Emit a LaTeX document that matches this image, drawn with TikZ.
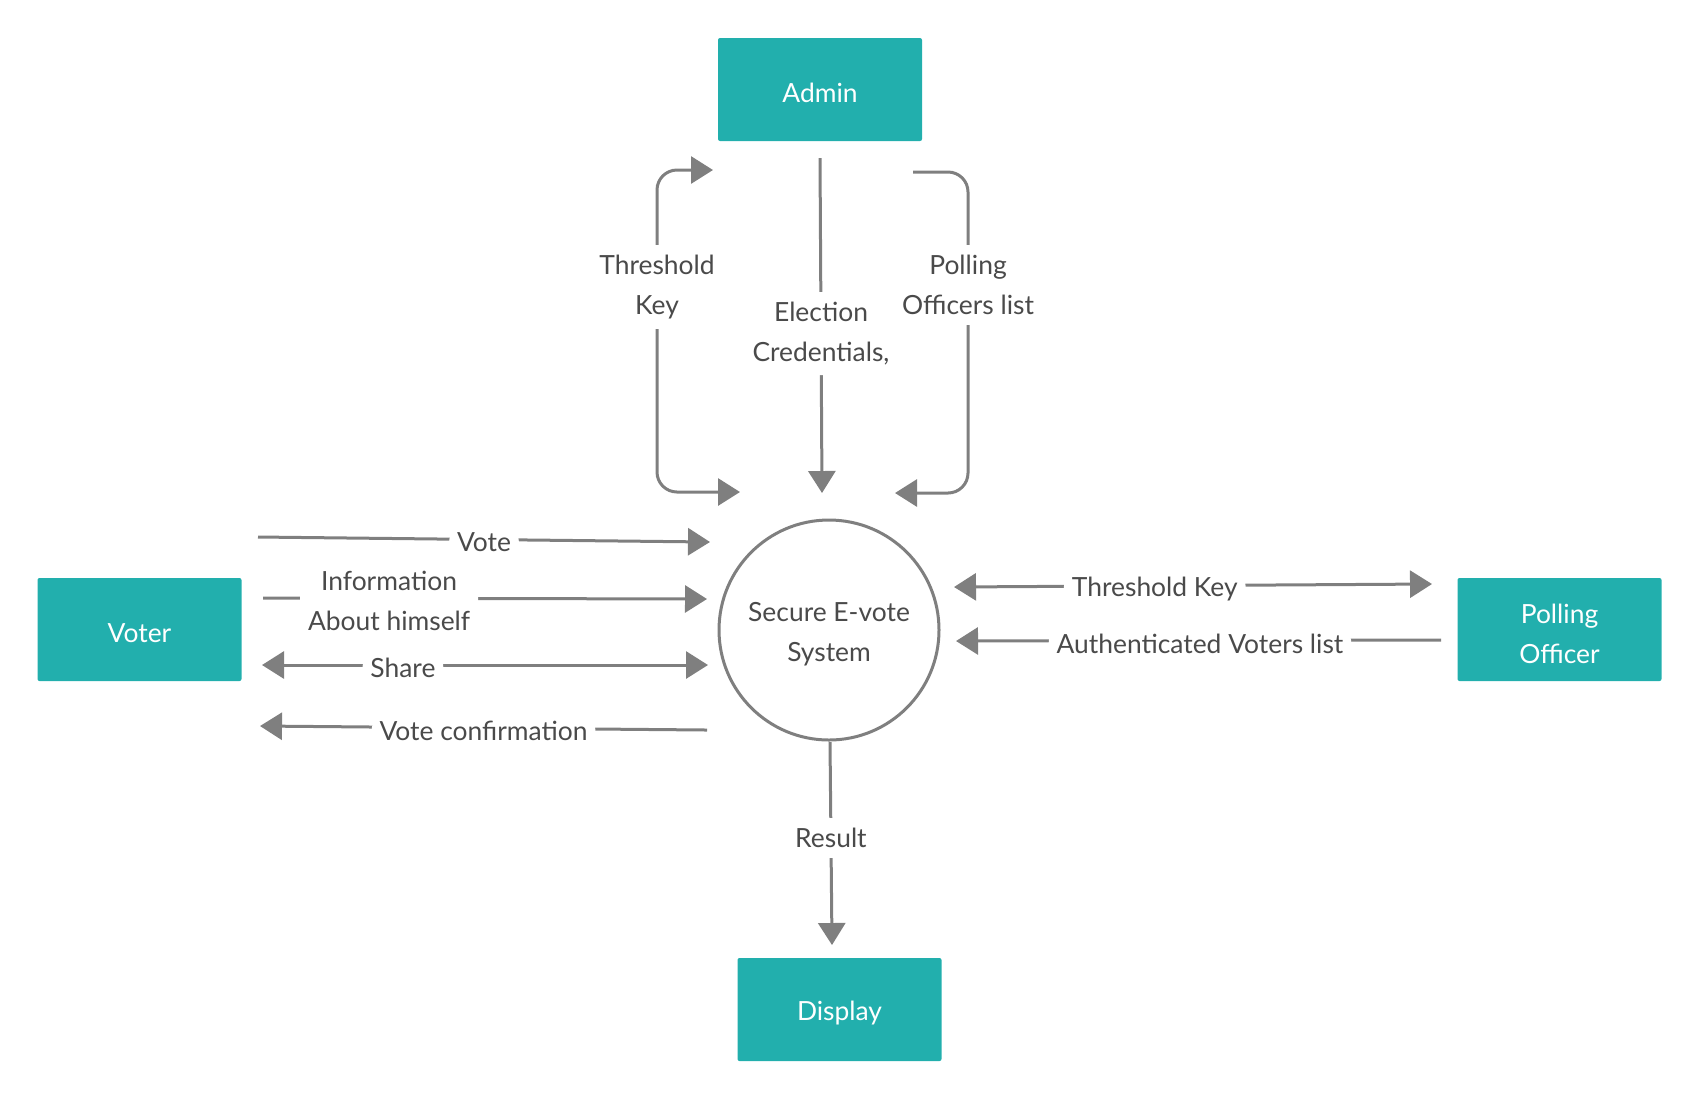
\documentclass[tikz,border=0pt]{standalone}
\usepackage{fontspec}
\setmainfont{Lato}
\usepackage{tikz}
\usetikzlibrary{arrows.meta,positioning}
\definecolor{tealbox}{HTML}{22AFAD}
\definecolor{linegray}{HTML}{7F7F7F}
\definecolor{textgray}{HTML}{4A4A4A}

\begin{document}
\begin{tikzpicture}[
    x=0.5pt,y=-0.5pt,
    entity/.style={fill=tealbox,text=white,align=center,minimum width=102pt,minimum height=51.5pt,rounded corners=1pt,font=\fontsize{13.2}{20}\selectfont,execute at begin node={\rule{0pt}{13pt}}},
    process/.style={circle,draw=linegray,line width=1.5pt,minimum size=110pt,align=center,text=textgray,font=\fontsize{13.2}{20}\selectfont},
    twolines/.style={execute at begin node={\rule{0pt}{34pt}}},
    arrow/.style={-{Triangle[length=11pt,width=13.5pt]},line width=1.5pt,draw=linegray,rounded corners=10pt},
    twoway/.style={arrow,{Triangle[length=11pt,width=13.5pt]}-{Triangle[length=11pt,width=13.5pt]}},
    lbl/.style={fill=white,text=textgray,align=center,inner xsep=4pt,inner ysep=5pt,yshift=-1.5pt,font=\fontsize{13.2}{20}\selectfont}
  ]
    \useasboundingbox (0,0) rectangle (1700,1100);

    % external entities and the process
    \node[entity] (admin) at (820,89.5) {Admin};
    \node[entity] (voter) at (139.5,629.5) {Voter};
    \node[entity,twolines] (officer) at (1559.5,629.5) {Polling\\Officer};
    \node[entity] (display) at (839.5,1009.5) {Display};
    \node[process,twolines] (system) at (829,630) {Secure E-vote\\System};

    % free ends of the flows
    \coordinate (thA) at (713,170);
    \coordinate (thC) at (657,492);
    \coordinate (thB) at (740,492);
    \coordinate (elA) at (820,158);
    \coordinate (elB) at (822,493);
    \coordinate (poA) at (913,172);
    \coordinate (poC) at (968,493);
    \coordinate (poB) at (895,493);
    \coordinate (voteA) at (258,537);
    \coordinate (voteB) at (710,542);
    \coordinate (infoA) at (263,598);
    \coordinate (infoB) at (707,599);
    \coordinate (shA) at (262,665);
    \coordinate (shB) at (708,665);
    \coordinate (vcA) at (707,730);
    \coordinate (vcB) at (260,726);
    \coordinate (tkA) at (954,587);
    \coordinate (tkB) at (1432,584);
    \coordinate (avA) at (1441,640);
    \coordinate (avB) at (956,641);
    \coordinate (reA) at (830,742);
    \coordinate (reB) at (832,945);

    % admin flows
    \draw[twoway] (thA) -| (thC) -- (thB);
    \node[lbl] (thlbl) at (657,284) {Threshold\\Key};
    \draw[arrow] (elA) -- node[lbl,pos=0.515] (ellbl) {Election\\Credentials,} (elB);
    \draw[arrow] (poA) -| (poC) -- (poB);
    \node[lbl] (polbl) at (968,282) {Polling\\Officers list};

    % voter flows
    \draw[arrow] (voteA) -- node[lbl,pos=0.5] (votelbl) {Vote} (voteB);
    \draw[arrow] (infoA) -- node[lbl,pos=0.284] (infolbl) {Information\\About himself} (infoB);
    \draw[twoway] (shA) -- node[lbl,pos=0.316] (shlbl) {Share} (shB);
    \draw[arrow] (vcA) -- node[lbl,pos=0.5] (vclbl) {Vote confirmation} (vcB);

    % polling officer flows
    \draw[twoway] (tkA) -- node[lbl,pos=0.42] (tklbl) {Threshold Key} (tkB);
    \draw[arrow] (avA) -- node[lbl,pos=0.497] (avlbl) {Authenticated Voters list} (avB);

    % result
    \draw[arrow] (reA) -- node[lbl,pos=0.458] (relbl) {Result} (reB);
  \end{tikzpicture}
\end{document}
